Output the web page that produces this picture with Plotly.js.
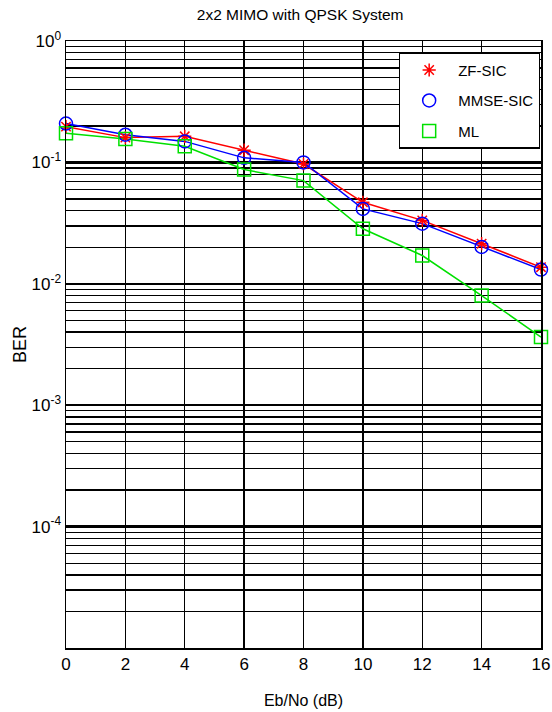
<!DOCTYPE html>
<html>
<head>
<meta charset="utf-8">
<script src="https://cdn.plot.ly/plotly-3.0.1.min.js"></script>
<style>html,body{margin:0;padding:0;background:#fff;}#chart{width:552px;height:712px;}</style>
</head>
<body>
<div id="chart"></div>
<script>
// Data
var ebno = [0, 2, 4, 6, 8, 10, 12, 14, 16];
var zfSic = [0.197, 0.160, 0.164, 0.126, 0.097, 0.0469, 0.0333, 0.0214, 0.0137];
var mmseSic = [0.209, 0.169, 0.149, 0.109, 0.100, 0.0414, 0.0313, 0.0201, 0.0131];
var ml = [0.174, 0.156, 0.136, 0.0873, 0.0708, 0.0284, 0.0171, 0.0080, 0.00364];
var seriesNames = ['ZF-SIC', 'MMSE-SIC', 'ML'];
var xTicks = [0, 2, 4, 6, 8, 10, 12, 14, 16];
var yDecades = [1e-4, 1e-3, 1e-2, 1e-1, 1];
var yDecadeLabels = ['10<sup>-4</sup>', '10<sup>-3</sup>', '10<sup>-2</sup>', '10<sup>-1</sup>', '10<sup>0</sup>'];

var FONT = '"Liberation Sans", Arial, Helvetica, sans-serif';

// minor grid positions (2..9 x 10^n)
var minorVals = [];
for (var e = -5; e < 0; e++) {
  for (var m = 2; m <= 9; m++) minorVals.push(m * Math.pow(10, e));
}

var colors = ['#ff0000', '#0000ff', '#00e000'];
var symbols = ['asterisk-open', 'circle-open', 'square-open'];
var sizes = [11, 13, 13];
var ys = [zfSic, mmseSic, ml];

var traces = [];
// lines (no legend)
for (var i = 0; i < 3; i++) {
  traces.push({
    x: ebno, y: ys[i], mode: 'lines', type: 'scatter',
    line: {color: colors[i], width: 1.5},
    showlegend: false, hoverinfo: 'skip', cliponaxis: false
  });
}
// markers (legend)
for (var j = 0; j < 3; j++) {
  traces.push({
    x: ebno, y: ys[j], mode: 'markers', type: 'scatter', name: seriesNames[j],
    legendgroup: 'g' + j,
    marker: {symbol: symbols[j], size: sizes[j], color: colors[j], line: {color: colors[j], width: 1.5}},
    cliponaxis: false
  });
}

var layout = {
  width: 552, height: 712,
  margin: {l: 66, r: 11, t: 41, b: 64},
  paper_bgcolor: '#ffffff', plot_bgcolor: '#ffffff',
  font: {family: FONT, color: '#000', size: 16},
  title: {
    text: '2x2 MIMO with QPSK System',
    font: {family: FONT, size: 15.5, color: '#000'},
    x: 0.493, xanchor: 'center', xref: 'paper',
    y: 0.980, yanchor: 'middle', yref: 'container'
  },
  xaxis: {
    range: [0, 16], tickvals: xTicks,
    showgrid: true, gridcolor: '#000', gridwidth: 1.3,
    showline: true, mirror: true, linecolor: '#000', linewidth: 1.5,
    zeroline: false, ticks: '', ticklabeloverflow: 'allow',
    tickfont: {family: FONT, size: 17, color: '#000'},
    title: {text: 'Eb/No (dB)', font: {family: FONT, size: 16, color: '#000'}, standoff: 22}
  },
  yaxis: {
    type: 'log', range: [-5, 0],
    tickvals: yDecades, ticktext: yDecadeLabels,
    showgrid: true, gridcolor: '#000', gridwidth: 2.2,
    minor: {tickvals: minorVals, showgrid: true, gridcolor: '#000', gridwidth: 1.3, ticklen: 0},
    showline: true, mirror: true, linecolor: '#000', linewidth: 1.5,
    zeroline: false, ticks: '', ticklabeloverflow: 'allow',
    tickfont: {family: FONT, size: 17, color: '#000'},
    title: {text: 'BER', font: {family: FONT, size: 18, color: '#000'}, standoff: 0}
  },
  legend: {
    x: 0.701, y: 0.981, xanchor: 'left', yanchor: 'top',
    bgcolor: '#ffffff', bordercolor: '#000', borderwidth: 1.2,
    font: {family: FONT, size: 15, color: '#000'},
    tracegroupgap: 8, traceorder: 'grouped', itemwidth: 48
  },
  showlegend: true
};

Plotly.newPlot('chart', traces, layout, {displayModeBar: false, staticPlot: true});
</script>
</body>
</html>
